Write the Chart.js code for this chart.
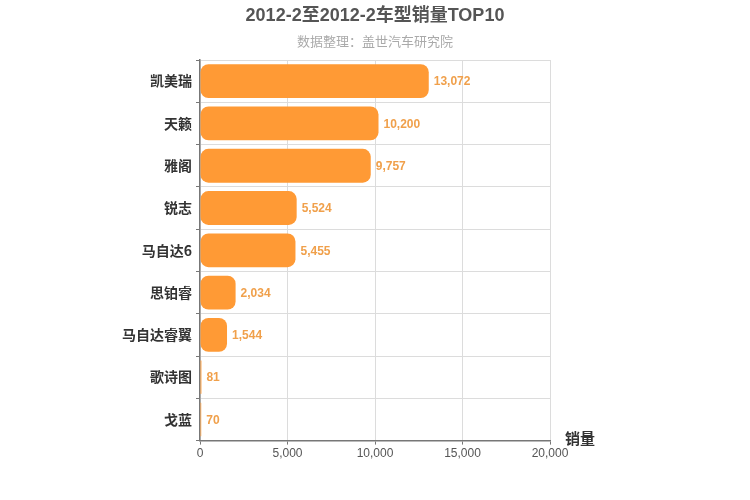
<!DOCTYPE html>
<html>
<head>
<meta charset="utf-8">
<script src="https://cdn.jsdelivr.net/npm/chart.js@4"></script>
<style>
html,body{margin:0;padding:0;background:#fff;}
#wrap{width:750px;height:500px;}
</style>
</head>
<body>
<div id="wrap"><canvas id="c" width="750" height="500"></canvas></div>
<script>
const categories = ["凯美瑞","天籁","雅阁","锐志","马自达6","思铂睿","马自达睿翼","歌诗图","戈蓝"];
const sales = [13072,10200,9757,5524,5455,2034,1544,81,70];
const titleText = "2012-2至2012-2车型销量TOP10";
const subtitleText = "数据整理：盖世汽车研究院";
const axisTitle = "销量";

const extraText = {
  id: 'extraText',
  afterDraw(chart) {
    const ctx = chart.ctx;
    const meta = chart.getDatasetMeta(0);
    ctx.save();
    // titles centred on canvas
    ctx.textAlign = 'center';
    ctx.textBaseline = 'middle';
    ctx.font = 'bold 18px "Liberation Sans", "Noto Sans CJK SC", sans-serif';
    ctx.fillStyle = '#555';
    ctx.fillText(titleText, chart.width / 2, 16);
    ctx.font = '13px "Noto Sans CJK SC", sans-serif';
    ctx.fillStyle = '#aaa';
    ctx.fillText(subtitleText, chart.width / 2, 41);
    // value labels
    ctx.font = 'bold 12px "Liberation Sans", Arial, sans-serif';
    ctx.fillStyle = '#f0a04b';
    ctx.textAlign = 'left';
    meta.data.forEach((bar, i) => {
      ctx.fillText(sales[i].toLocaleString('en-US'), bar.x + 5, bar.y + 1);
    });
    // axis title
    const xs = chart.scales.x;
    ctx.font = 'bold 15px "Noto Sans CJK SC", sans-serif';
    ctx.fillStyle = '#333';
    ctx.fillText(axisTitle, xs.right + 15, xs.top - 2);
    ctx.restore();
  }
};

new Chart(document.getElementById('c'), {
  type: 'bar',
  data: {
    labels: categories,
    datasets: [{
      data: sales,
      backgroundColor: '#ff9a35',
      borderRadius: 8,
      borderSkipped: false,
      barPercentage: 0.8,
      categoryPercentage: 1.0
    }]
  },
  options: {
    indexAxis: 'y',
    responsive: false,
    animation: false,
    devicePixelRatio: 1,
    layout: { padding: { top: 60, right: 200, bottom: 37, left: 0 } },
    plugins: {
      legend: { display: false },
      tooltip: { enabled: false },
      title: { display: false },
      subtitle: { display: false }
    },
    scales: {
      x: {
        min: 0,
        max: 20000,
        ticks: {
          stepSize: 5000,
          color: '#555',
          font: { size: 12, family: '"Liberation Sans", Arial, sans-serif' },
          padding: 2,
          callback: v => v.toLocaleString('en-US')
        },
        grid: { color: '#dcdcdc', tickLength: 4, tickColor: '#777' },
        border: { color: '#777', width: 1.5 }
      },
      y: {
        ticks: {
          color: '#333',
          font: { size: 14, weight: 'bold', family: '"Noto Sans CJK SC", sans-serif' },
          padding: 4
        },
        grid: { color: '#dcdcdc', tickLength: 4, tickColor: '#777' },
        border: { color: '#777', width: 1.5 },
        afterFit(scale) { scale.width = 200; }
      }
    }
  },
  plugins: [extraText]
});
</script>
</body>
</html>
